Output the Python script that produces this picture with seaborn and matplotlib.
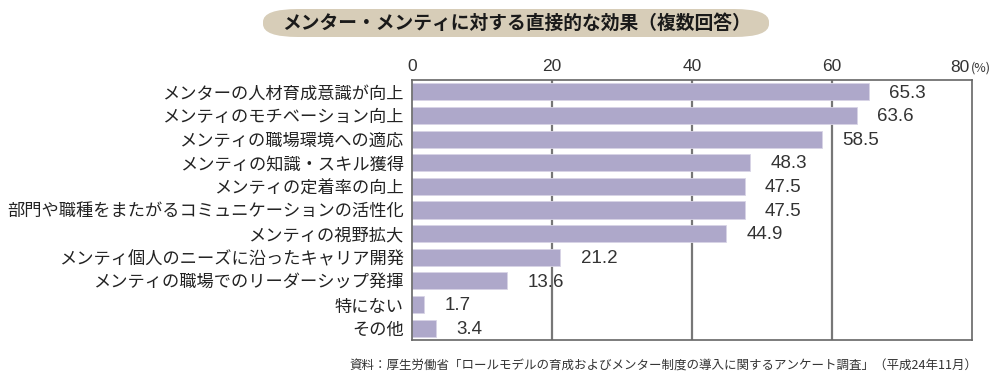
import matplotlib
matplotlib.use("Agg")
import matplotlib.pyplot as plt
import seaborn as sns
import pandas as pd
import numpy as np
from matplotlib.patches import FancyBboxPatch

categories = [
    "メンターの人材育成意識が向上",
    "メンティのモチベーション向上",
    "メンティの職場環境への適応",
    "メンティの知識・スキル獲得",
    "メンティの定着率の向上",
    "部門や職種をまたがるコミュニケーションの活性化",
    "メンティの視野拡大",
    "メンティ個人のニーズに沿ったキャリア開発",
    "メンティの職場でのリーダーシップ発揮",
    "特にない",
    "その他",
]
values = [65.3, 63.6, 58.5, 48.3, 47.5, 47.5, 44.9, 21.2, 13.6, 1.7, 3.4]
x_ticks = [0, 20, 40, 60, 80]
x_ticklabels = ["0", "20", "40", "60", ""]
title = "メンター・メンティに対する直接的な効果（複数回答）"
source = "資料：厚生労働省「ロールモデルの育成およびメンター制度の導入に関するアンケート調査」（平成24年11月）"

sns.set_theme(style="white")
plt.rcParams['font.family'] = ['Noto Sans CJK JP', 'DejaVu Sans']

df = pd.DataFrame({"cat": categories, "val": values})

fig = plt.figure(figsize=(10.06, 3.77), dpi=100)
ax = fig.add_axes([412/1006, 1-340/377, 560/1006, 260/377])

sns.barplot(data=df, x="val", y="cat", orient="h", color="#AEA8CA",
            saturation=1, width=0.72, ax=ax, zorder=2, edgecolor="#D8D4E6", linewidth=0.6)

ax.set_xlim(0, 80)
ax.set_xticks(x_ticks)
ax.set_xticklabels(x_ticklabels, fontsize=12.5, color="#333333", family=['Liberation Sans'])
ax.xaxis.tick_top()
ax.tick_params(axis="x", length=0, pad=4)
ax.set_xlabel("")
ax.set_ylabel("")
ax.tick_params(axis="y", length=0, pad=6, labelsize=12.4, labelcolor="#222222")
ax.set_yticks(range(len(categories)))
ax.set_yticklabels(categories)
ax.set_yticks(np.arange(len(categories)) + 0.5, minor=True)
ax.tick_params(axis="y", which="minor", direction="in", length=4, width=1, color="#666666")

for x in x_ticks[1:-1]:
    ax.axvline(x, color="#777777", lw=1.6, zorder=1)
for s in ax.spines.values():
    s.set_color("#666666")
    s.set_linewidth(1.2)

for i, v in enumerate(values):
    ax.text(v + 2.9, i + 0.05, f"{v}", va="center", ha="left", fontsize=13.5, color="#333333",
            family=['Liberation Sans'])

# "80" tick label with (%) suffix
ax.text(79.7, 1.02, "80", transform=ax.get_xaxis_transform(), ha="right", va="bottom",
        fontsize=12.5, color="#333333", family=['Liberation Sans'])
ax.text(79.8, 1.022, "(%)", transform=ax.get_xaxis_transform(), ha="left", va="bottom",
        fontsize=9, color="#333333")

# title box
box = FancyBboxPatch((263/1006, 1-37/377), (769-263)/1006, 28/377,
                     boxstyle="round,pad=0,rounding_size=0.035",
                     transform=fig.transFigure, facecolor="#D7CDB8", edgecolor="none",
                     mutation_aspect=377/1006*2.6)
fig.patches.append(box)
fig.text(517/1006, 1-23/377, title, fontsize=13.5, fontweight="bold", color="#1a1a1a",
         ha="center", va="center")

fig.text(977/1006, 1-366/377, source, fontsize=9, color="#333333", ha="right", va="center")

fig.savefig("out.png", dpi=100)
